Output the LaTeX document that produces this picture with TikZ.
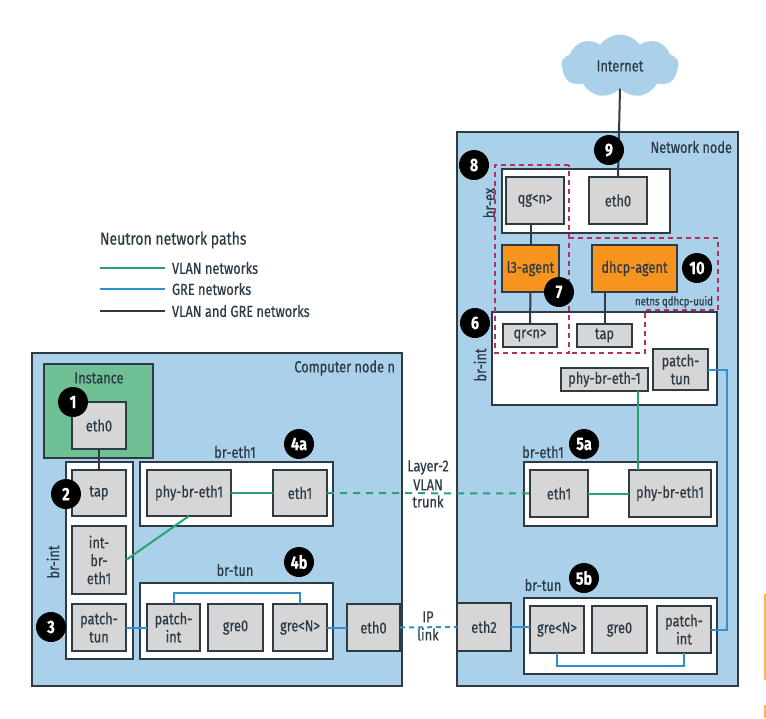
\documentclass[tikz,border=0pt]{standalone}
\usepackage{fontspec}
\setmainfont{Fira Sans}[FakeStretch=0.8,FakeBold=0.4]
\usetikzlibrary{shapes.symbols}
\definecolor{nodeblue}{HTML}{ABD0EA}
\definecolor{instgreen}{HTML}{6FBF95}
\definecolor{agentorange}{HTML}{F7941E}
\definecolor{nicgrey}{HTML}{D6D6D6}
\definecolor{edgedark}{HTML}{2E3B45}
\definecolor{textdark}{HTML}{2C3A46}
\definecolor{vlangreen}{HTML}{2BA172}
\definecolor{grelblue}{HTML}{2F8FCF}
\definecolor{nsred}{HTML}{B5305F}
\definecolor{stripe}{HTML}{F5B94E}
\tikzset{
  every node/.style={inner sep=0pt, outer sep=0pt, text=textdark, align=center, font=\fontsize{16}{18}\selectfont},
  hostbox/.style={draw=edgedark, line width=2pt, fill=nodeblue},
  brbox/.style={draw=edgedark, line width=2pt, fill=white},
  instbox/.style={draw=edgedark, line width=2pt, fill=instgreen},
  nic/.style={draw=edgedark, line width=1.8pt, fill=nicgrey},
  agent/.style={draw=edgedark, line width=1.8pt, fill=agentorange},
  badge/.style={circle, fill=black, text=white, minimum size=30pt, font=\fontsize{18}{18}\selectfont\bfseries},
  vlan/.style={draw=vlangreen, line width=2pt},
  gre/.style={draw=grelblue, line width=2pt},
  both/.style={draw=edgedark, line width=2pt},
  nsline/.style={draw=nsred, line width=2pt, dash pattern=on 5pt off 4pt},
}
\begin{document}
\begin{tikzpicture}[x=1pt,y=-1pt]
  \useasboundingbox (0,0) rectangle (766,718);
  % hosts
  \node[hostbox, minimum width=370, minimum height=333] (compute) at (217,519.5) {};
  \node[hostbox, minimum width=281, minimum height=554] (network) at (597.5,409) {};
  \node[cloud, cloud puffs=9, cloud puff arc=110, aspect=1.8, fill=nodeblue, minimum width=117, minimum height=63] (internet) at (620,66) {Internet};
  \node[anchor=east] (computelbl) at (395,368) {Computer node n};
  \node[anchor=east] (networklbl) at (732,147) {Network node};
  % compute node
  \node[instbox, minimum width=109, minimum height=94] (instance) at (98.5,411) {};
  \node (instancelbl) at (99,378) {Instance};
  \node[brbox, minimum width=67, minimum height=197] (lbrint) at (99.5,560.5) {};
  \node[brbox, minimum width=193, minimum height=64] (lbreth) at (236.5,494) {};
  \node[brbox, minimum width=193, minimum height=76] (lbrtun) at (236.5,621) {};
  \node[nic, minimum width=54, minimum height=47] (leth0) at (99,425.5) {eth0};
  \node[nic, minimum width=54, minimum height=46] (ltap) at (99,493) {tap};
  \node[nic, minimum width=54, minimum height=68] (lintbr) at (99,560) {int-\\br-\\eth1};
  \node[nic, minimum width=54, minimum height=47] (lpatchtun) at (99,627.5) {patch-\\tun};
  \node[nic, minimum width=84, minimum height=46] (lphy) at (189,493) {phy-br-eth1};
  \node[nic, minimum width=54, minimum height=46] (leth1) at (300,493) {eth1};
  \node[nic, minimum width=53, minimum height=47] (lpatchint) at (173.5,627.5) {patch-\\int};
  \node[nic, minimum width=55, minimum height=47] (lgre0) at (235.5,627.5) {gre0};
  \node[nic, minimum width=54, minimum height=47] (lgren) at (300,627.5) {gre<N>};
  \node[nic, minimum width=53, minimum height=47] (lethout) at (373.5,627.5) {eth0};
  \node (lbreth1lbl) at (235,452) {br-eth1};
  \node (lbrtunlbl) at (235,570) {br-tun};
  \node[rotate=90] (lbrintlbl) at (53,562) {br-int};
  % network node
  \node[brbox, minimum width=168, minimum height=64] (rbrex) at (586,201) {};
  \node[brbox, minimum width=225, minimum height=93] (rbrint) at (604.5,358.5) {};
  \node[brbox, minimum width=193, minimum height=64] (rbreth) at (620.5,494) {};
  \node[brbox, minimum width=193, minimum height=76] (rbrtun) at (620.5,636) {};
  \node[nic, minimum width=58, minimum height=47] (rqg) at (535,200.5) {qg<n>};
  \node[nic, minimum width=58, minimum height=47] (reth0) at (618,200.5) {eth0};
  \node[agent, minimum width=57, minimum height=47] (rl3) at (530.5,268.5) {l3-agent};
  \node[agent, minimum width=85, minimum height=47] (rdhcp) at (634.5,268.5) {dhcp-agent};
  \node[nic, minimum width=54, minimum height=23] (rqr) at (530,335.5) {qr<n>};
  \node[nic, minimum width=55, minimum height=23] (rtap) at (604.5,335.5) {tap};
  \node[nic, minimum width=87, minimum height=23] (rphyint) at (604.5,379.5) {phy-br-eth-1};
  \node[nic, minimum width=55, minimum height=41] (rpatchtun) at (680.5,369.5) {patch-\\tun};
  \node[nic, minimum width=58, minimum height=47] (reth1) at (559,493.5) {eth1};
  \node[nic, minimum width=82, minimum height=47] (rphy) at (670,493.5) {phy-br-eth1};
  \node[nic, minimum width=54, minimum height=48] (reth2) at (484,627) {eth2};
  \node[nic, minimum width=54, minimum height=47] (rgren) at (557,629.5) {gre<N>};
  \node[nic, minimum width=55, minimum height=47] (rgre0) at (619.5,629.5) {gre0};
  \node[nic, minimum width=54, minimum height=47] (rpatchint) at (684,629.5) {patch-\\int};
  \node[rotate=90] (rbrexlbl) at (489,203) {br-ex};
  \node[rotate=90] (rbrintlbl) at (480,365) {br-int};
  \node (rbreth1lbl) at (543,452) {br-eth1};
  \node (rbrtunlbl) at (543,585) {br-tun};
  \node[font=\fontsize{12}{12}\selectfont] (rnetnslbl) at (674,302) {netns qdhcp-uuid};
  % between the hosts
  \node (vlanlbl) at (428,484) {Layer-2\\[1pt]VLAN\\[-1pt]trunk};
  \node (iplbl) at (428,626) {IP\\link};
  % connectors
  \coordinate (rvlan) at (638,391);
  \draw[both] (internet.south) -- (reth0.north);
  \draw[both] (rqg.south -| rl3.north) -- (rl3.north);
  \draw[both] (rl3.south) -- (rqr.north);
  \draw[both] (rdhcp.south -| rtap.north) -- (rtap.north);
  \draw[both] (leth0) -- (ltap);
  \draw[vlan] (lphy) -- (leth1);
  \draw[vlan] (lphy.south) -- (lintbr.east);
  \draw[vlan] (reth1) -- (rphy);
  \draw[vlan] (rvlan) -- (rvlan |- rphy.north);
  \draw[vlan, dash pattern=on 7pt off 6pt] (leth1) -- (reth1);
  \draw[gre] (lpatchtun) -- (lpatchint);
  \draw[gre] (lgren) -- (lethout);
  \draw[gre] (lpatchint.north) -- ++(0,-11) -| (lgren.north);
  \draw[gre, dash pattern=on 5pt off 4pt] (lethout.east) -- (reth2.west);
  \draw[gre] (reth2.east) -- (rgren.west |- reth2.east);
  \draw[gre] (rgren.south) -- ++(0,13) -| (rpatchint.south);
  \draw[gre] (rpatchtun.east) -- ++(19,0) |- (rpatchint.east);
  % namespaces
  \draw[nsline] (569,165) -- (495,165) -- (495,353) -- (569,353) -- cycle;
  \draw[nsline] (569,238) -- (718,238) -- (718,310) -- (645,310) -- (645,353) -- (569,353);
  % numbers
  \node[badge] (n1) at (73,402) {1};
  \node[badge] (n2) at (66,494) {2};
  \node[badge] (n3) at (51,627) {3};
  \node[badge] (n4a) at (299,444) {4a};
  \node[badge] (n4b) at (299,562) {4b};
  \node[badge] (n5a) at (584,444) {5a};
  \node[badge] (n5b) at (584,578) {5b};
  \node[badge] (n6) at (475,323) {6};
  \node[badge] (n7) at (559,292) {7};
  \node[badge] (n8) at (474,165) {8};
  \node[badge] (n9) at (609,150) {9};
  \node[badge] (n10) at (697,268) {10};
  % legend
  \node[anchor=west, font=\fontsize{17.5}{20}\selectfont] (lgtitle) at (100,240) {Neutron network paths};
  \coordinate (lgvlanend) at (100,268);
  \coordinate (lggreend) at (100,289);
  \coordinate (lgbothend) at (100,311);
  \node[anchor=west, inner xsep=7pt] (lgvlan) at (165,268) {VLAN networks};
  \node[anchor=west, inner xsep=7pt] (lggre) at (165,289) {GRE networks};
  \node[anchor=west, inner xsep=7pt] (lgboth) at (165,311) {VLAN and GRE networks};
  \draw[vlan] (lgvlanend) -- (lgvlan.west);
  \draw[gre] (lggreend) -- (lggre.west);
  \draw[both] (lgbothend) -- (lgboth.west);
  % edge of the page
  \fill[stripe] (764,594) rectangle (766,680);
  \fill[stripe] (764,705) rectangle (766,718);
\end{tikzpicture}
\end{document}
